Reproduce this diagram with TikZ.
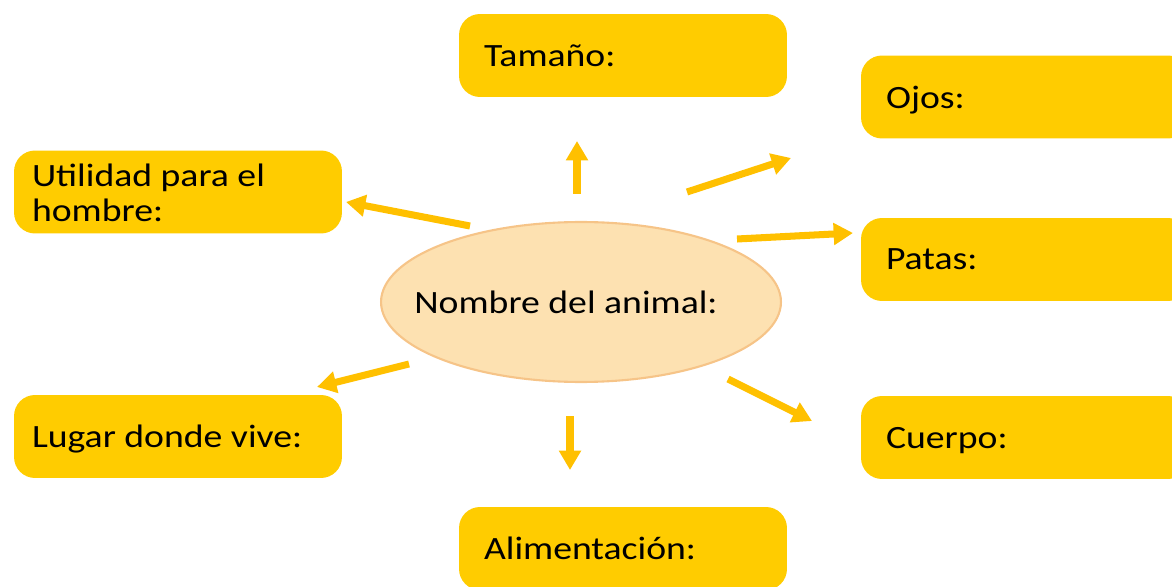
\documentclass[tikz,border=0pt]{standalone}
\usepackage{fontspec}
\setmainfont{Carlito}[FakeStretch=1.16]
\usetikzlibrary{shapes.geometric,arrows.meta}
\definecolor{boxyellow}{HTML}{FFCC00}
\definecolor{arrowyellow}{HTML}{FFC000}
\definecolor{ellfill}{HTML}{FDE1B1}
\definecolor{elldraw}{HTML}{F6C488}
\begin{document}
\begin{tikzpicture}[x=0.02cm,y=-0.02cm,
		field/.style={rectangle,rounded corners=0.42cm,fill=boxyellow,minimum width=6.56cm,minimum height=1.66cm,
			text width=5.56cm,inner xsep=0.5cm,text depth=0pt,align=flush left,font=\fontsize{18.5}{19.8}\selectfont},
		leftfield/.style={field,text width=5.84cm,inner xsep=0.36cm},
		arrow/.style={arrowyellow,line width=4pt,-{Triangle[length=11pt,width=12pt]}}
		]
	\clip (0,0) rectangle (1172,587);
	\useasboundingbox (0,0) rectangle (1172,587);

	% Centro
	% ----------------------
	\node[ellipse,draw=elldraw,line width=1.2pt,fill=ellfill,minimum width=8cm,minimum height=3.2cm,inner sep=0pt,
		font=\fontsize{18.5}{19.8}\selectfont] (animal) at (581,302)
		{\hbox to 0pt{\hss Nombre del animal:\hskip 0.6cm\hss}};

	% Casillas
	% ----------------------
	\node[field] (tamano) at (623,55.5) {Tama\~no:};
	\node[field] (ojos) at (1025,97) {Ojos:};
	\node[leftfield,text depth=19pt] (utilidad) at (178,192) {Utilidad para el\\hombre:};
	\node[field] (patas) at (1025,259.5) {Patas:};
	\node[leftfield] (lugar) at (178,436.5) {Lugar donde vive:};
	\node[field] (cuerpo) at (1025,437.5) {Cuerpo:};
	\node[field] (alim) at (623,548.5) {Alimentaci\'on:};

	% Flechas
	% ----------------------
	\coordinate (a1) at (577,194); \coordinate (b1) at (577,141);
	\coordinate (a2) at (687,192); \coordinate (b2) at (791,158);
	\coordinate (a3) at (737,239); \coordinate (b3) at (853,233);
	\coordinate (a4) at (728,379); \coordinate (b4) at (812,421);
	\coordinate (a5) at (570,416); \coordinate (b5) at (570,470);
	\coordinate (a6) at (409,364); \coordinate (b6) at (317,387);
	\coordinate (a7) at (470,226); \coordinate (b7) at (346,202);

	\foreach \i in {1,...,7}
		\draw[arrow] (a\i) -- (b\i);

\end{tikzpicture}
\end{document}
